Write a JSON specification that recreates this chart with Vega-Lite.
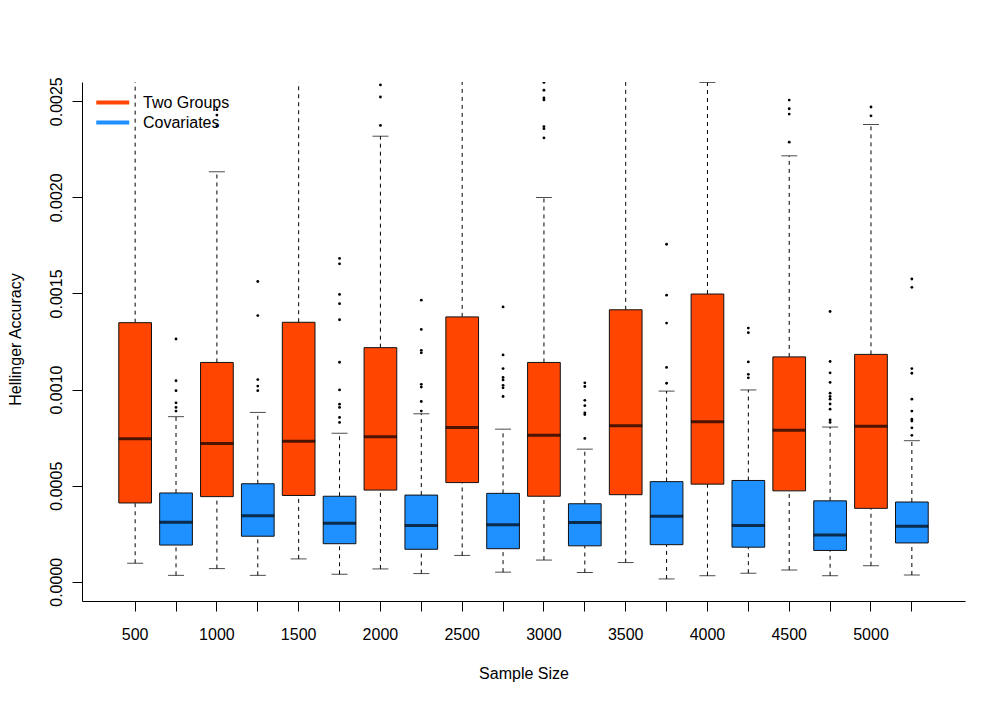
{
  "$schema": "https://vega.github.io/schema/vega-lite/v6.json",
  "width": 883,
  "height": 519,
  "autosize": {"type": "none"},
  "padding": {"left": 82, "top": 82, "right": 43, "bottom": 104},
  "background": "white",
  "config": {
    "view": {"stroke": null},
    "font": "Liberation Sans",
    "axis": {"labelFont": "Liberation Sans", "titleFont": "Liberation Sans", "labelFontSize": 16, "titleFontSize": 16, "titleFontWeight": "normal", "labelColor": "black", "titleColor": "black", "domainColor": "black", "tickColor": "black", "domainWidth": 1, "tickWidth": 1, "grid": false}
  },
  "datasets": {
    "boxes": [
      {"box": "500 Two Groups", "n": 500, "group": "Two Groups", "lo": 0.0000964, "q1": 0.000410, "med": 0.000744, "q3": 0.001348, "hi": 0.0027},
      {"box": "500 Covariates", "n": 500, "group": "Covariates", "lo": 0.0000334, "q1": 0.000191, "med": 0.000310, "q3": 0.000462, "hi": 0.000859},
      {"box": "1000 Two Groups", "n": 1000, "group": "Two Groups", "lo": 0.0000686, "q1": 0.000443, "med": 0.000720, "q3": 0.001141, "hi": 0.002133},
      {"box": "1000 Covariates", "n": 1000, "group": "Covariates", "lo": 0.0000334, "q1": 0.000237, "med": 0.000343, "q3": 0.000510, "hi": 0.000881},
      {"box": "1500 Two Groups", "n": 1500, "group": "Two Groups", "lo": 0.000119, "q1": 0.000449, "med": 0.000731, "q3": 0.001350, "hi": 0.0027},
      {"box": "1500 Covariates", "n": 1500, "group": "Covariates", "lo": 0.0000389, "q1": 0.000198, "med": 0.000304, "q3": 0.000445, "hi": 0.000773},
      {"box": "2000 Two Groups", "n": 2000, "group": "Two Groups", "lo": 0.0000668, "q1": 0.000477, "med": 0.000755, "q3": 0.001218, "hi": 0.002318},
      {"box": "2000 Covariates", "n": 2000, "group": "Covariates", "lo": 0.0000427, "q1": 0.000169, "med": 0.000293, "q3": 0.000451, "hi": 0.000874},
      {"box": "2500 Two Groups", "n": 2500, "group": "Two Groups", "lo": 0.000137, "q1": 0.000516, "med": 0.000803, "q3": 0.001378, "hi": 0.0027},
      {"box": "2500 Covariates", "n": 2500, "group": "Covariates", "lo": 0.0000501, "q1": 0.000172, "med": 0.000297, "q3": 0.000460, "hi": 0.000794},
      {"box": "3000 Two Groups", "n": 3000, "group": "Two Groups", "lo": 0.000113, "q1": 0.000445, "med": 0.000762, "q3": 0.001141, "hi": 0.001999},
      {"box": "3000 Covariates", "n": 3000, "group": "Covariates", "lo": 0.0000482, "q1": 0.000187, "med": 0.000308, "q3": 0.000406, "hi": 0.000690},
      {"box": "3500 Two Groups", "n": 3500, "group": "Two Groups", "lo": 0.000100, "q1": 0.000453, "med": 0.000812, "q3": 0.001415, "hi": 0.0028},
      {"box": "3500 Covariates", "n": 3500, "group": "Covariates", "lo": 0.0000148, "q1": 0.000193, "med": 0.000341, "q3": 0.000521, "hi": 0.000992},
      {"box": "4000 Two Groups", "n": 4000, "group": "Two Groups", "lo": 0.0000315, "q1": 0.000508, "med": 0.000833, "q3": 0.001497, "hi": 0.002598},
      {"box": "4000 Covariates", "n": 4000, "group": "Covariates", "lo": 0.0000445, "q1": 0.000180, "med": 0.000293, "q3": 0.000527, "hi": 0.000998},
      {"box": "4500 Two Groups", "n": 4500, "group": "Two Groups", "lo": 0.0000612, "q1": 0.000473, "med": 0.000788, "q3": 0.001170, "hi": 0.002216},
      {"box": "4500 Covariates", "n": 4500, "group": "Covariates", "lo": 0.0000315, "q1": 0.000163, "med": 0.000243, "q3": 0.000421, "hi": 0.000805},
      {"box": "5000 Two Groups", "n": 5000, "group": "Two Groups", "lo": 0.0000835, "q1": 0.000382, "med": 0.000809, "q3": 0.001183, "hi": 0.002379},
      {"box": "5000 Covariates", "n": 5000, "group": "Covariates", "lo": 0.0000352, "q1": 0.000202, "med": 0.000289, "q3": 0.000415, "hi": 0.000734}
    ],
    "outliers": [
      {"box": "500 Covariates", "v": 0.001263}, {"box": "500 Covariates", "v": 0.001046}, {"box": "500 Covariates", "v": 0.000994}, {"box": "500 Covariates", "v": 0.000931}, {"box": "500 Covariates", "v": 0.000907}, {"box": "500 Covariates", "v": 0.000888},
      {"box": "1000 Two Groups", "v": 0.002456}, {"box": "1000 Two Groups", "v": 0.002428}, {"box": "1000 Two Groups", "v": 0.002372},
      {"box": "1000 Covariates", "v": 0.001562}, {"box": "1000 Covariates", "v": 0.001385}, {"box": "1000 Covariates", "v": 0.001052}, {"box": "1000 Covariates", "v": 0.001018}, {"box": "1000 Covariates", "v": 0.000994},
      {"box": "1500 Covariates", "v": 0.001682}, {"box": "1500 Covariates", "v": 0.001654}, {"box": "1500 Covariates", "v": 0.001495}, {"box": "1500 Covariates", "v": 0.001447}, {"box": "1500 Covariates", "v": 0.001363}, {"box": "1500 Covariates", "v": 0.001142}, {"box": "1500 Covariates", "v": 0.000998}, {"box": "1500 Covariates", "v": 0.000924}, {"box": "1500 Covariates", "v": 0.000907}, {"box": "1500 Covariates", "v": 0.000855}, {"box": "1500 Covariates", "v": 0.000829},
      {"box": "2000 Two Groups", "v": 0.002585}, {"box": "2000 Two Groups", "v": 0.002522}, {"box": "2000 Two Groups", "v": 0.002374},
      {"box": "2000 Covariates", "v": 0.001465}, {"box": "2000 Covariates", "v": 0.001313}, {"box": "2000 Covariates", "v": 0.001204}, {"box": "2000 Covariates", "v": 0.001191}, {"box": "2000 Covariates", "v": 0.001027}, {"box": "2000 Covariates", "v": 0.001013}, {"box": "2000 Covariates", "v": 0.000938}, {"box": "2000 Covariates", "v": 0.000888},
      {"box": "2500 Covariates", "v": 0.001430}, {"box": "2500 Covariates", "v": 0.001180}, {"box": "2500 Covariates", "v": 0.001109}, {"box": "2500 Covariates", "v": 0.001063}, {"box": "2500 Covariates", "v": 0.001050}, {"box": "2500 Covariates", "v": 0.001022}, {"box": "2500 Covariates", "v": 0.001009}, {"box": "2500 Covariates", "v": 0.000964},
      {"box": "3000 Two Groups", "v": 0.002598}, {"box": "3000 Two Groups", "v": 0.002557}, {"box": "3000 Two Groups", "v": 0.002517}, {"box": "3000 Two Groups", "v": 0.002507}, {"box": "3000 Two Groups", "v": 0.002368}, {"box": "3000 Two Groups", "v": 0.002357}, {"box": "3000 Two Groups", "v": 0.002309},
      {"box": "3000 Covariates", "v": 0.001035}, {"box": "3000 Covariates", "v": 0.001016}, {"box": "3000 Covariates", "v": 0.000944}, {"box": "3000 Covariates", "v": 0.000916}, {"box": "3000 Covariates", "v": 0.000879}, {"box": "3000 Covariates", "v": 0.000870}, {"box": "3000 Covariates", "v": 0.000746},
      {"box": "3500 Covariates", "v": 0.001756}, {"box": "3500 Covariates", "v": 0.001491}, {"box": "3500 Covariates", "v": 0.001346}, {"box": "3500 Covariates", "v": 0.001115}, {"box": "3500 Covariates", "v": 0.001033},
      {"box": "4000 Covariates", "v": 0.001320}, {"box": "4000 Covariates", "v": 0.001296}, {"box": "4000 Covariates", "v": 0.001144}, {"box": "4000 Covariates", "v": 0.001079}, {"box": "4000 Covariates", "v": 0.001061},
      {"box": "4500 Two Groups", "v": 0.002506}, {"box": "4500 Two Groups", "v": 0.002461}, {"box": "4500 Two Groups", "v": 0.002433}, {"box": "4500 Two Groups", "v": 0.002287},
      {"box": "4500 Covariates", "v": 0.001406}, {"box": "4500 Covariates", "v": 0.001146}, {"box": "4500 Covariates", "v": 0.001087}, {"box": "4500 Covariates", "v": 0.001037}, {"box": "4500 Covariates", "v": 0.000981}, {"box": "4500 Covariates", "v": 0.000964}, {"box": "4500 Covariates", "v": 0.000950}, {"box": "4500 Covariates", "v": 0.000925}, {"box": "4500 Covariates", "v": 0.000898}, {"box": "4500 Covariates", "v": 0.000842}, {"box": "4500 Covariates", "v": 0.000829},
      {"box": "5000 Two Groups", "v": 0.002470}, {"box": "5000 Two Groups", "v": 0.002424},
      {"box": "5000 Covariates", "v": 0.001575}, {"box": "5000 Covariates", "v": 0.001532}, {"box": "5000 Covariates", "v": 0.001109}, {"box": "5000 Covariates", "v": 0.001085}, {"box": "5000 Covariates", "v": 0.000950}, {"box": "5000 Covariates", "v": 0.000888}, {"box": "5000 Covariates", "v": 0.000846}, {"box": "5000 Covariates", "v": 0.000836}, {"box": "5000 Covariates", "v": 0.000801}, {"box": "5000 Covariates", "v": 0.000762}
    ]
  },
  "encoding": {
    "x": {
      "field": "box",
      "type": "nominal",
      "scale": {
        "type": "band",
        "domain": ["500 Two Groups", "500 Covariates", "1000 Two Groups", "1000 Covariates", "1500 Two Groups", "1500 Covariates", "2000 Two Groups", "2000 Covariates", "2500 Two Groups", "2500 Covariates", "3000 Two Groups", "3000 Covariates", "3500 Two Groups", "3500 Covariates", "4000 Two Groups", "4000 Covariates", "4500 Two Groups", "4500 Covariates", "5000 Two Groups", "5000 Covariates"],
        "paddingInner": 0.2,
        "paddingOuter": 0.9
      },
      "axis": {
        "title": "Sample Size",
        "labelAngle": 0,
        "labelExpr": "indexof(datum.value, 'Two') >= 0 ? split(datum.value, ' ')[0] : ''",
        "labelOverlap": false,
        "tickSize": 10,
        "labelPadding": 15,
        "labelBaseline": "top",
        "titleX": 441.5,
        "titleY": 77.5,
        "titleBaseline": "alphabetic",
        "titleAlign": "center"
      }
    }
  },
  "layer": [
    {
      "data": {"name": "boxes"},
      "mark": {"type": "rule", "color": "black", "strokeWidth": 1, "strokeDash": [4, 4], "clip": true},
      "encoding": {
        "y": {
          "field": "lo", "type": "quantitative",
          "scale": {"domain": [-0.0001, 0.0026], "nice": false, "zero": false},
          "axis": {
            "title": "Hellinger Accuracy",
            "values": [0, 0.0005, 0.001, 0.0015, 0.002, 0.0025],
            "format": ".4f",
            "labelAngle": -90,
            "labelAlign": "center",
            "labelBaseline": "alphabetic",
            "tickSize": 10,
            "labelPadding": 11,
            "titleX": -62,
            "titleY": 257,
            "titleAngle": -90,
            "titleBaseline": "alphabetic",
            "titleAlign": "center"
          }
        },
        "y2": {"field": "q1"}
      }
    },
    {
      "data": {"name": "boxes"},
      "mark": {"type": "rule", "color": "black", "strokeWidth": 1, "strokeDash": [4, 4], "clip": true},
      "encoding": {
        "y": {"field": "q3", "type": "quantitative"},
        "y2": {"field": "hi"}
      }
    },
    {
      "data": {"name": "boxes"},
      "mark": {"type": "tick", "color": "black", "size": 16, "thickness": 1, "clip": true},
      "encoding": {"y": {"field": "lo", "type": "quantitative"}}
    },
    {
      "data": {"name": "boxes"},
      "mark": {"type": "tick", "color": "black", "size": 16, "thickness": 1, "clip": true},
      "encoding": {"y": {"field": "hi", "type": "quantitative"}}
    },
    {
      "data": {"name": "boxes"},
      "mark": {"type": "bar", "clip": true},
      "encoding": {
        "y": {"field": "q1", "type": "quantitative"},
        "y2": {"field": "q3"},
        "color": {
          "field": "group",
          "type": "nominal",
          "scale": {"domain": ["Two Groups", "Covariates"], "range": ["#FF4500", "#1E90FF"]},
          "legend": {
            "title": null,
            "orient": "none",
            "legendX": 14,
            "legendY": 12,
            "padding": 0,
            "symbolType": "M-1,-0.24H3V0.24H-1Z",
            "symbolSize": 272,
            "symbolStrokeWidth": 0,
            "symbolStrokeColor": "transparent",
            "labelFont": "Liberation Sans",
            "labelFontSize": 16,
            "labelColor": "black",
            "labelOffset": 30,
            "rowPadding": 3
          }
        }
      }
    },
    {
      "data": {"name": "boxes"},
      "mark": {"type": "bar", "filled": false, "stroke": "#111111", "strokeWidth": 1, "clip": true},
      "encoding": {
        "y": {"field": "q1", "type": "quantitative"},
        "y2": {"field": "q3"}
      }
    },
    {
      "data": {"name": "boxes"},
      "mark": {"type": "tick", "color": "black", "size": 33, "thickness": 3, "clip": true},
      "encoding": {"y": {"field": "med", "type": "quantitative"}}
    },
    {
      "data": {"name": "outliers"},
      "mark": {"type": "point", "filled": true, "color": "black", "size": 8, "opacity": 1, "clip": true},
      "encoding": {"y": {"field": "v", "type": "quantitative"}}
    }
  ]
}
